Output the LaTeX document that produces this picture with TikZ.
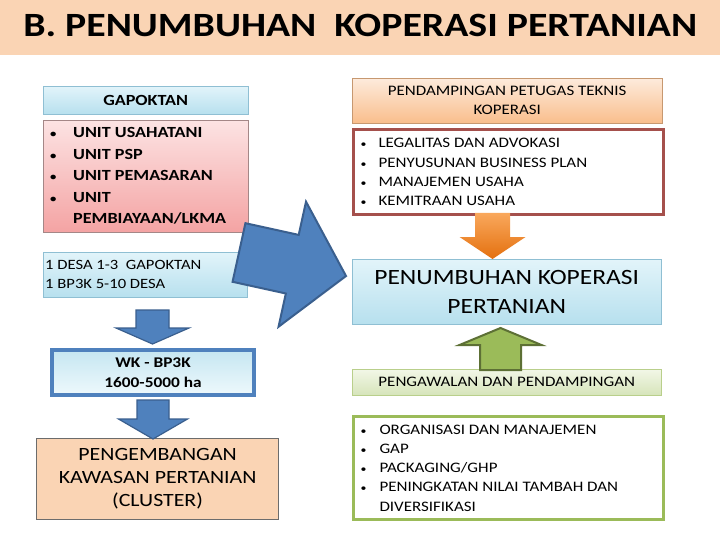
\documentclass[tikz,border=0pt]{standalone}
\usepackage{fontspec}
\setmainfont{Carlito}[FakeStretch=1.17]
\usetikzlibrary{calc,positioning}

\definecolor{titlebg}{HTML}{FAD4B4}
\definecolor{cyantop}{HTML}{E2F4FA}
\definecolor{cyanbot}{HTML}{B7E0EE}
\definecolor{cyanline}{HTML}{8FBFD3}
\definecolor{pinktop}{HTML}{FCE3E3}
\definecolor{pinkbot}{HTML}{F4A3A3}
\definecolor{pinkline}{HTML}{A48787}
\definecolor{peach}{HTML}{FAD4B4}
\definecolor{orangetop}{HTML}{FDEBDC}
\definecolor{orangebot}{HTML}{F9BE8C}
\definecolor{arrowtop}{HTML}{F9A85C}
\definecolor{arrowbot}{HTML}{E4700F}
\definecolor{redline}{HTML}{A5504C}
\definecolor{greentop}{HTML}{F2F7E7}
\definecolor{greenbot}{HTML}{D6E4BA}
\definecolor{greenline}{HTML}{9BBB59}
\definecolor{blueline}{HTML}{4F81BD}
\definecolor{bluedark}{HTML}{3A5F8E}

% bullet: gap before the dot, gap after it
\newcommand{\bul}[2]{\hspace*{#1}\makebox[0pt]{\scalebox{0.7}{\textbullet}}\hspace*{#2}}
% left aligned block of lines
\newcommand{\lines}[2]{\parbox{#1}{\raggedright #2}}
% block arrow: from, to, shaft half width, head half width, head length
\newcommand{\blockarrow}[6][]{%
  \coordinate (ba-base) at ($(#3)!#6!(#2)$);
  \draw[#1] ($(#2)!#4!90:(#3)$) -- ($(ba-base)!#4!90:(#3)$)
    -- ($(ba-base)!#5!90:(#3)$) -- (#3) -- ($(ba-base)!#5!-90:(#3)$)
    -- ($(ba-base)!#4!-90:(#3)$) -- ($(#2)!#4!-90:(#3)$) -- cycle;
}

\begin{document}
\begin{tikzpicture}[x=1pt,y=-1pt,
    box/.style={rectangle, anchor=north west, inner sep=0pt, align=center},
    cyanbox/.style={box, draw=cyanline, top color=cyantop, bottom color=cyanbot},
    bluearrow/.style={fill=blueline, draw=bluedark, line width=1.2pt, line join=miter},
    small/.style={font=\fontsize{14.5}{19.2}\selectfont}]
  \useasboundingbox (0,0) rectangle (720,540);
  \fill[white] (0,0) rectangle (720,540);

  % title band
  \node[box, fill=titlebg, minimum width=720pt, minimum height=55pt,
        font=\fontsize{34}{36}\selectfont\bfseries] (title) at (0,0)
        {\raisebox{4pt}{B. PENUMBUHAN\ \ KOPERASI PERTANIAN}};

  % left column
  \node[cyanbox, minimum width=205pt, minimum height=28pt,
        font=\fontsize{15.5}{18}\selectfont\bfseries] (gapoktan) at (43,86) {GAPOKTAN};
  \node[box, draw=pinkline, top color=pinktop, bottom color=pinkbot,
        minimum width=205pt, minimum height=112pt,
        font=\fontsize{15.5}{21.5}\selectfont\bfseries] (units) at (43,120)
        {\lines{205pt}{\bul{10pt}{20pt}UNIT USAHATANI\\
         \bul{10pt}{20pt}UNIT PSP\\
         \bul{10pt}{20pt}UNIT PEMASARAN\\
         \bul{10pt}{20pt}UNIT\\
         \hspace*{30pt}PEMBIAYAAN/LKMA}};
  \node[cyanbox, minimum width=204pt, minimum height=45pt,
        font=\fontsize{14.2}{19}\selectfont] (desa) at (43,252)
        {\lines{200pt}{1 DESA 1-3\ \ GAPOKTAN\\1 BP3K 5-10 DESA}};
  \node[box, draw=blueline, line width=4pt, top color=cyanbot!80, bottom color=cyantop!60,
        minimum width=202pt, minimum height=45pt,
        font=\fontsize{14.8}{20}\selectfont\bfseries] (wk) at (50,348)
        {WK - BP3K\\1600-5000 ha};
  \node[box, draw=gray!85!black, line width=1.2pt, fill=peach,
        minimum width=242pt, minimum height=81pt,
        font=\fontsize{18.7}{23}\selectfont] (cluster) at (36,438)
        {PENGEMBANGAN\\KAWASAN PERTANIAN\\(CLUSTER)};

  % right column
  \node[box, draw=orangebot!80!black, top color=orangetop, bottom color=orangebot,
        minimum width=310pt, minimum height=45pt, small] (petugas) at (352,78)
        {PENDAMPINGAN PETUGAS TEKNIS\\KOPERASI};
  \node[box, draw=redline, line width=3pt, fill=white,
        minimum width=310pt, minimum height=85pt, small] (layanan) at (352,128)
        {\lines{310pt}{\bul{10pt}{15pt}LEGALITAS DAN ADVOKASI\\
         \bul{10pt}{15pt}PENYUSUNAN BUSINESS PLAN\\
         \bul{10pt}{15pt}MANAJEMEN USAHA\\
         \bul{10pt}{15pt}KEMITRAAN USAHA}};
  \node[cyanbox, minimum width=309pt, minimum height=65pt,
        font=\fontsize{21.8}{28.5}\selectfont] (koperasi) at (352,259)
        {PENUMBUHAN KOPERASI\\PERTANIAN};
  \node[box, draw=greenline!70, top color=greentop, bottom color=greenbot,
        minimum width=309pt, minimum height=26pt, small] (kawal) at (352,369)
        {PENGAWALAN DAN PENDAMPINGAN};
  \node[box, draw=greenline, line width=3pt, fill=white,
        minimum width=310pt, minimum height=103pt, small] (materi) at (352,415)
        {\lines{310pt}{\bul{10pt}{16pt}ORGANISASI DAN MANAJEMEN\\
         \bul{10pt}{16pt}GAP\\
         \bul{10pt}{16pt}PACKAGING/GHP\\
         \bul{10pt}{16pt}PENINGKATAN NILAI TAMBAH DAN\\
         \hspace*{26pt}DIVERSIFIKASI}};

  % arrow ends
  \coordinate (a1s) at (152.5,310);
  \coordinate (a1e) at (152.5,344);
  \coordinate (a2s) at (153,400);
  \coordinate (a2e) at (153,439);
  \coordinate (bigs) at (239,252.5);
  \coordinate (bige) at (346,276);
  \coordinate (ors) at (492.5,213);
  \coordinate (ore) at (492.5,259);
  \coordinate (grs) at (500.5,370);
  \coordinate (gre) at (500.5,328);

  % draw arrows
  \blockarrow[bluearrow]{a1s}{a1e}{16.5pt}{36.5pt}{16pt}
  \blockarrow[bluearrow]{a2s}{a2e}{16pt}{34.5pt}{20pt}
  \blockarrow[bluearrow, line width=2pt]{bigs}{bige}{30pt}{64pt}{55pt}
  \blockarrow[top color=arrowtop, bottom color=arrowbot, draw=none]{ors}{ore}{17.5pt}{33pt}{22pt}
  \blockarrow[fill=greenline, draw=greenline!60!black, line width=2pt]{grs}{gre}{20.5pt}{41pt}{17pt}
\end{tikzpicture}
\end{document}
